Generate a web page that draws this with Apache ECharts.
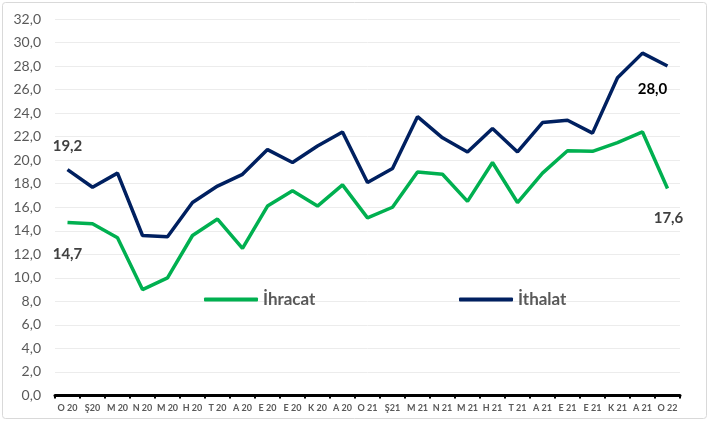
<!DOCTYPE html>
<html><head><meta charset="utf-8">
<script src="https://cdn.jsdelivr.net/npm/echarts@6/dist/echarts.min.js"></script>
<style>html,body{margin:0;padding:0;background:#fff}#c{width:710px;height:421px}</style>
</head><body><div id="c"></div>
<script>
var categories = ['O 20','Ş20','M 20','N 20','M 20','H 20','T 20','A 20','E 20','E 20','K 20','A 20','O 21','Ş21','M 21','N 21','M 21','H 21','T 21','A 21','E 21','E 21','K 21','A 21','O 22'];
var ihracat = [14.7,14.6,13.4,9.0,10.0,13.6,15.0,12.5,16.1,17.4,16.1,17.9,15.1,16.0,19.0,18.8,16.5,19.8,16.4,18.9,20.8,20.75,21.5,22.4,17.6];
var ithalat = [19.2,17.7,18.9,13.6,13.5,16.4,17.8,18.8,20.9,19.8,21.2,22.4,18.1,19.3,23.7,21.9,20.7,22.7,20.7,23.2,23.4,22.3,27.0,29.1,28.0];
var yTicks = {min:0, max:32, interval:2};

var FONT = 'Lato, "Open Sans", sans-serif';
function fmt(v){ return v.toFixed(1).replace('.', ','); }
function build(arr, labels){
  return arr.map(function(v,i){
    var o = {value:v};
    if (labels[i]) o.label = Object.assign({show:true, fontFamily:FONT, fontWeight:'bold', fontSize:15, formatter:function(p){return fmt(p.value);}}, labels[i]);
    return o;
  });
}
var ihrLabels = {}; ihrLabels[0] = {position:'bottom', offset:[0,19], color:'#404040'}; ihrLabels[24] = {position:'bottom', offset:[1,17], color:'#404040'};
var ithLabels = {}; ithLabels[0] = {position:'top', offset:[0,-11], color:'#404040'}; ithLabels[24] = {position:'bottom', offset:[-15,11], color:'#000'};

var chart = echarts.init(document.getElementById('c'), null, {renderer:'canvas'});
chart.setOption({
  animation:false,
  backgroundColor:'#fff',
  graphic:[{type:'rect', shape:{x:2.5,y:2.5,width:704,height:416,r:3}, style:{fill:'none', stroke:'#d9d9d9', lineWidth:1}, z:-1}],
  grid:{left:55, right:30, top:19, bottom:25.5},
  legend:[
    {data:['İhracat'], left:199, top:286, icon:'roundRect', itemWidth:54, itemHeight:4, itemGap:4, textStyle:{fontFamily:FONT, fontWeight:'bold', fontSize:17, color:'#595959'}},
    {data:['İthalat'], left:454, top:286, icon:'roundRect', itemWidth:54, itemHeight:4, itemGap:4, textStyle:{fontFamily:FONT, fontWeight:'bold', fontSize:17, color:'#595959'}}
  ],
  xAxis:{type:'category', data:categories, boundaryGap:true,
    axisLine:{lineStyle:{color:'#000', width:3}},
    axisTick:{show:true, length:3, lineStyle:{color:'#000', width:2}},
    axisLabel:{fontFamily:FONT, fontSize:9, fontWeight:'bold', color:'#595959', margin:8, interval:0},
    splitLine:{show:false}},
  yAxis:{type:'value', min:yTicks.min, max:yTicks.max, interval:yTicks.interval,
    axisLine:{show:false}, axisTick:{show:false},
    axisLabel:{fontFamily:FONT, fontSize:14, color:'#595959', margin:14, formatter:function(v){return fmt(v);}},
    splitLine:{lineStyle:{color:'#ececec', width:1}}},
  series:[
    {name:'İhracat', type:'line', data:build(ihracat, ihrLabels), showSymbol:true, symbol:'circle', symbolSize:0.01, lineStyle:{color:'#00B050', width:3.5}, itemStyle:{color:'#00B050'}},
    {name:'İthalat', type:'line', data:build(ithalat, ithLabels), showSymbol:true, symbol:'circle', symbolSize:0.01, lineStyle:{color:'#002060', width:3.5}, itemStyle:{color:'#002060'}}
  ]
});
</script></body></html>
